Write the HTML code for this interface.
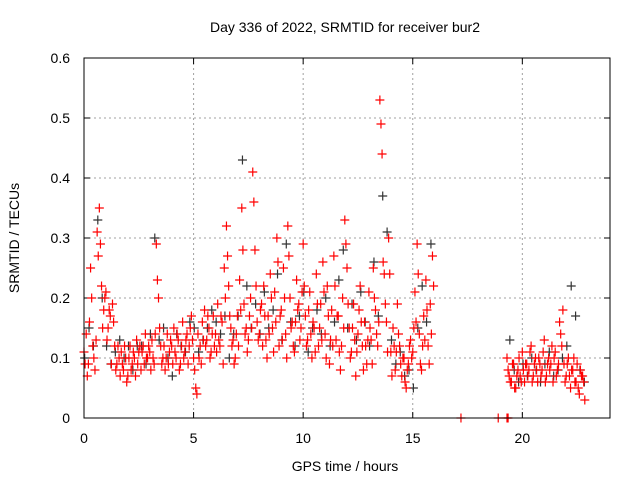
<!DOCTYPE html>
<html><head><meta charset="utf-8"><style>
body{margin:0;background:#fff;}
svg{display:block;font-family:"Liberation Sans",sans-serif;}
</style></head><body>
<svg id="chart" width="640" height="480">
<text x="345" y="32" font-size="14" text-anchor="middle">Day 336 of 2022, SRMTID for receiver bur2</text>
<g id="grid"></g>
<g id="ticks"></g>
<g id="black"></g>
<g id="red"></g>
<rect x="84" y="58" width="526" height="360" fill="none" stroke="#000" stroke-width="1"/>
<text x="345" y="471" font-size="14" text-anchor="middle">GPS time / hours</text>
<text x="19" y="238" font-size="14" text-anchor="middle" transform="rotate(-90 19 238)">SRMTID / TECUs</text>
</svg>
<script>
const xTicks=[0,5,10,15,20];
const yTicks=[0,0.1,0.2,0.3,0.4,0.5,0.6];
const yTickLabels=["0","0.1","0.2","0.3","0.4","0.5","0.6"];
const redA=[0.11,0.14,0.09,0.25,0.12,0.08,0.31,0.35,0.22,0.18,
0.21,0.15,0.17,0.19,0.12,0.09,0.10,0.11,0.08,0.10,
0.07,0.12,0.09,0.10,0.13,0.11,0.08,0.12,0.14,0.10,
0.11,0.13,0.09,0.29,0.20,0.12,0.10,0.08,0.14,0.11,
0.12,0.15,0.10,0.13,0.09,0.16,0.11,0.14,0.12,0.17,
0.10,0.05,0.14,0.12,0.16,0.18,0.13,0.15,0.11,0.17,
0.14,0.19,0.12,0.16,0.25,0.32,0.22,0.15,0.13,0.10,
0.17,0.23,0.35,0.19,0.15,0.13,0.20,0.41,0.28,0.16,
0.14,0.19,0.22,0.13,0.17,0.24,0.15,0.21,0.30,0.12,
0.18,0.25,0.14,0.32,0.20,0.16,0.11,0.23,0.19,0.15,
0.29,0.17,0.13,0.21,0.10,0.15,0.24,0.12,0.19,0.26,
0.14,0.22,0.09,0.18,0.27,0.13,0.17,0.08,0.20,0.33,
0.25,0.15,0.11,0.19,0.07,0.14,0.22,0.12,0.16,0.09,
0.21,0.13,0.25,0.18,0.12,0.53,0.44,0.24,0.16,0.30,
0.11,0.15,0.08,0.19,0.12,0.07,0.10,0.05,0.09,0.13,
0.11,0.21,0.29,0.14,0.08,0.17,0.23,0.12,0.19,0.27];
const redALate=[0.10,0.07,0.06,0.09,0.05,0.08,0.07,0.11,0.06,0.09,0.08,0.12,0.07,0.10,0.06,0.09,0.08,0.13,0.07,0.10,0.09,0.06,0.11,0.08,0.16,0.12,0.09,0.07,0.10,0.05,0.08,0.06,0.09,0.04,0.07,0.06];
const redB=[0.09,0.07,0.16,0.20,0.10,0.13,0.27,0.29,0.15,0.20,
0.13,0.18,0.09,0.16,0.08,0.12,0.07,0.09,0.12,0.06,
0.10,0.08,0.11,0.07,0.09,0.12,0.11,0.09,0.10,0.12,
0.08,0.10,0.14,0.23,0.15,0.09,0.12,0.10,0.09,0.13,
0.09,0.11,0.14,0.08,0.12,0.10,0.13,0.09,0.15,0.13,
0.08,0.04,0.10,0.09,0.13,0.12,0.17,0.10,0.14,0.12,
0.11,0.13,0.17,0.09,0.20,0.27,0.17,0.12,0.09,0.14,
0.12,0.18,0.28,0.14,0.11,0.17,0.15,0.36,0.22,0.13,
0.18,0.12,0.17,0.10,0.14,0.20,0.11,0.16,0.26,0.17,
0.13,0.20,0.10,0.27,0.15,0.12,0.16,0.18,0.13,0.21,
0.22,0.12,0.18,0.14,0.16,0.11,0.19,0.15,0.13,0.21,
0.10,0.17,0.13,0.12,0.22,0.17,0.11,0.12,0.15,0.29,
0.19,0.10,0.15,0.13,0.11,0.18,0.16,0.08,0.12,0.13,
0.15,0.09,0.20,0.14,0.16,0.49,0.26,0.19,0.11,0.24,
0.07,0.12,0.11,0.14,0.09,0.10,0.06,0.08,0.12,0.10,
0.15,0.16,0.24,0.09,0.12,0.13,0.18,0.09,0.14,0.22];
const redBLate=[0.08,0.06,0.09,0.05,0.07,0.10,0.06,0.08,0.09,0.07,0.11,0.06,0.09,0.08,0.10,0.07,0.11,0.06,0.09,0.08,0.12,0.10,0.07,0.09,0.14,0.18,0.06,0.09,0.07,0.08,0.10,0.06,0.05,0.08,0.07,0.03];
const redZeroTimes=[17.2,18.9,19.3,19.35];
const blackVals=[0.10,0.15,0.12,0.33,0.20,0.12,0.09,0.11,0.13,0.10,
0.12,0.08,0.12,0.12,0.09,0.14,0.30,0.13,0.15,0.10,
0.07,0.14,0.12,0.11,0.16,0.15,0.11,0.13,0.15,0.18,
0.16,0.14,0.17,0.10,0.14,0.17,0.43,0.22,0.15,0.19,
0.14,0.21,0.15,0.18,0.24,0.13,0.29,0.16,0.12,0.17,
0.21,0.11,0.15,0.18,0.14,0.20,0.12,0.16,0.23,0.28,
0.15,0.19,0.13,0.21,0.16,0.12,0.26,0.17,0.37,0.31,
0.13,0.09,0.11,0.07,0.08,0.05,0.15,0.22,0.16,0.29];
const blackLate=[0.13,0.08,0.06,0.09,0.07,0.10,0.08,0.06,0.09,0.11,0.07,0.08,0.10,0.12,0.22,0.17,0.08,0.06];

const X0=84,X1=610,Y0=418,Y1=58;
const xs=t=>X0+t/24*(X1-X0);
const ys=v=>Y0-v/0.6*(Y0-Y1);
const NS="http://www.w3.org/2000/svg";
function mk(tag,attrs,parent){const e=document.createElementNS(NS,tag);for(const k in attrs)e.setAttribute(k,attrs[k]);parent.appendChild(e);return e;}
const grid=document.getElementById('grid'),ticks=document.getElementById('ticks');
xTicks.forEach(t=>{const x=xs(t);
 if(t>0){const l=mk('line',{x1:x,x2:x,y1:Y1,y2:Y0,stroke:'#a0a0a0','stroke-dasharray':'2,3'},grid);
 }
 mk('line',{x1:x,x2:x,y1:Y0,y2:Y0-6,stroke:'#000'},ticks);
 mk('line',{x1:x,x2:x,y1:Y1,y2:Y1+6,stroke:'#000'},ticks);
 const tx=mk('text',{x:x,y:443,'font-size':14,'text-anchor':'middle'},ticks);tx.textContent=t;
 });
yTicks.forEach((v,i)=>{const y=ys(v);
 if(v>0&&v<0.6){const l=mk('line',{x1:X0,x2:X1,y1:y,y2:y,stroke:'#a0a0a0','stroke-dasharray':'2,3'},grid);
 }
 mk('line',{x1:X0,x2:X0+6,y1:y,y2:y,stroke:'#000'},ticks);
 mk('line',{x1:X1,x2:X1-6,y1:y,y2:y,stroke:'#000'},ticks);
 const tx=mk('text',{x:70,y:y+5,'font-size':14,'text-anchor':'end'},ticks);tx.textContent=yTickLabels[i];
 });
function plus(g,t,v,col){const x=xs(t),y=ys(v);
 const p=mk('path',{d:`M${x-4.5},${y}H${x+4.5}M${x},${y-4.5}V${y+4.5}`,stroke:col,'stroke-width':1.2,fill:'none'},g);
 }
const bg=document.getElementById('black'),rg=document.getElementById('red');
blackVals.forEach((v,i)=>plus(bg,0.03+i*0.2,v,'#333'));
blackLate.forEach((v,i)=>plus(bg,19.43+i*0.2,v,'#333'));
redA.forEach((v,i)=>plus(rg,i*0.1,v,'#f00'));
redB.forEach((v,i)=>plus(rg,0.05+i*0.1,v,'#f00'));
redALate.forEach((v,i)=>plus(rg,19.3+i*0.1,v,'#f00'));
redBLate.forEach((v,i)=>plus(rg,19.35+i*0.1,v,'#f00'));
redZeroTimes.forEach(t=>plus(rg,t,0,'#f00'));
</script>
</body></html>
